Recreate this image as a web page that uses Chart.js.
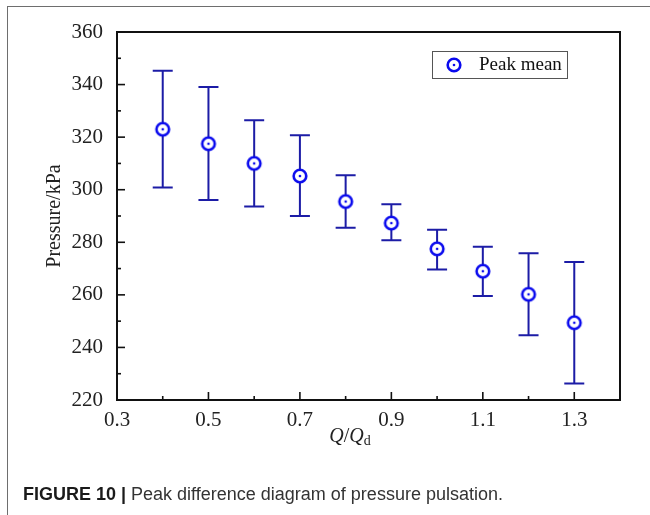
<!DOCTYPE html>
<html>
<head>
<meta charset="utf-8">
<script src="https://cdn.jsdelivr.net/npm/chart.js@4.4.0/dist/chart.umd.min.js"></script>
<style>
  html, body { margin:0; padding:0; background:#fff; }
  #wrap { position:relative; width:650px; height:515px; overflow:hidden; }
  #frame { position:absolute; left:7px; top:6px; width:700px; height:600px;
           border-left:1.5px solid #6e6e6e; border-top:1.5px solid #6e6e6e; }
  #xTitle { position:absolute; left:300px; width:100px; top:424px; text-align:center;
            font-family:"Liberation Serif", serif; font-size:20px; color:#222; }
  #xTitle sub { font-size:14px; vertical-align:-3px; font-style:normal; }
  #caption { position:absolute; left:23px; top:484px; font-family:"Liberation Sans", Arial, sans-serif;
             font-size:18px; color:#333; white-space:nowrap; }
  #caption b { color:#1a1a1a; }
  canvas { position:absolute; left:0; top:0; }
</style>
</head>
<body>
<div id="wrap">
  <div id="frame"></div>
  <canvas id="chart" width="650" height="515"></canvas>
  <div id="xTitle"><i>Q</i>/<i>Q</i><sub>d</sub></div>
  <div id="caption"><b>FIGURE 10 |</b> Peak difference diagram of pressure pulsation.</div>
</div>
<script>
// data
const flowRatio = [0.4, 0.5, 0.6, 0.7, 0.8, 0.9, 1.0, 1.1, 1.2, 1.3];
const peakMean  = [323.0, 317.5, 310.0, 305.2, 295.5, 287.3, 277.5, 269.0, 260.2, 249.4];
const peakMax   = [345.3, 339.1, 326.4, 320.7, 305.5, 294.5, 284.8, 278.3, 275.8, 272.5];
const peakMin   = [300.8, 296.1, 293.6, 290.0, 285.5, 280.8, 269.6, 259.6, 244.6, 226.3];
const seriesLabel = 'Peak mean';
const xTickLabels = ['0.3', '0.5', '0.7', '0.9', '1.1', '1.3'];
const yTickLabels = ['220', '240', '260', '280', '300', '320', '340', '360'];

const BLUE = '#0a0aee';
const NAVY = '#1c1ca6';
const SERIF = '"Liberation Serif", "Times New Roman", serif';

// open circle with a centre dot
function makeMarker(){
  const c = document.createElement('canvas');
  c.width = 18; c.height = 18;
  const g = c.getContext('2d');
  g.beginPath(); g.arc(9, 9, 6.3, 0, Math.PI*2);
  g.fillStyle = '#fff'; g.fill();
  g.lineWidth = 2.6; g.strokeStyle = BLUE; g.stroke();
  g.beginPath(); g.arc(9, 9, 1.3, 0, Math.PI*2);
  g.fillStyle = BLUE; g.fill();
  return c;
}
const marker = makeMarker();

const errorBars = {
  id:'errorBars',
  beforeDatasetsDraw(chart){
    const {ctx, scales:{x, y}} = chart;
    ctx.save();
    ctx.strokeStyle = NAVY;
    ctx.lineWidth = 2;
    flowRatio.forEach((q, i) => {
      const px = x.getPixelForValue(q);
      const top = y.getPixelForValue(peakMax[i]);
      const bot = y.getPixelForValue(peakMin[i]);
      ctx.beginPath();
      ctx.moveTo(px, top); ctx.lineTo(px, bot);
      ctx.moveTo(px - 10, top); ctx.lineTo(px + 10, top);
      ctx.moveTo(px - 10, bot); ctx.lineTo(px + 10, bot);
      ctx.stroke();
    });
    ctx.restore();
  }
};

// frame box, inward ticks and legend
const frameAndTicks = {
  id:'frameAndTicks',
  afterDraw(chart){
    const {ctx, chartArea:a, scales:{x, y}} = chart;
    ctx.save();
    ctx.strokeStyle = '#111';
    ctx.lineWidth = 2;
    ctx.strokeRect(a.left, a.top, a.right - a.left, a.bottom - a.top);

    ctx.lineWidth = 1.6;
    x.ticks.forEach(t => {
      const px = x.getPixelForValue(t.value);
      const len = xTickLabels.includes(t.value.toFixed(1)) ? 8 : 4;
      ctx.beginPath(); ctx.moveTo(px, a.bottom); ctx.lineTo(px, a.bottom - len); ctx.stroke();
    });
    y.ticks.forEach(t => {
      const py = y.getPixelForValue(t.value);
      const len = yTickLabels.includes(String(Math.round(t.value))) ? 8 : 4;
      ctx.beginPath(); ctx.moveTo(a.left, py); ctx.lineTo(a.left + len, py); ctx.stroke();
    });

    // legend box
    const lx = 432, ly = 51, lw = 135, lh = 27;
    ctx.lineWidth = 1;
    ctx.strokeStyle = '#555';
    ctx.strokeRect(lx + 0.5, ly + 0.5, lw, lh);
    ctx.drawImage(marker, lx + 13, ly + 5);
    ctx.fillStyle = '#111';
    ctx.font = '19px ' + SERIF;
    ctx.textBaseline = 'middle';
    ctx.fillText(seriesLabel, lx + 47, ly + 14);
    ctx.restore();
  }
};

new Chart(document.getElementById('chart'), {
  type:'scatter',
  data:{
    datasets:[{
      label: seriesLabel,
      data: flowRatio.map((q, i) => ({ x:q, y:peakMean[i] })),
      pointStyle: marker,
      pointRadius: 7,
      pointHoverRadius: 7
    }]
  },
  options:{
    responsive:false,
    animation:false,
    layout:{ padding:{ left:0, top:32, right:30, bottom:0 } },
    plugins:{ legend:{ display:false }, tooltip:{ enabled:false } },
    scales:{
      x:{
        type:'linear', min:0.3, max:1.4,
        grid:{ display:false },
        border:{ display:false },
        afterFit(s){ s.height = 115; },
        ticks:{
          stepSize:0.1, padding:0, maxRotation:0, autoSkip:false,
          color:'#222', font:{ family:SERIF, size:21 },
          callback(v){ const s = (Math.round(v*10)/10).toFixed(1); return xTickLabels.includes(s) ? s : ''; }
        }
      },
      y:{
        min:220, max:360,
        grid:{ display:false },
        border:{ display:false },
        afterFit(s){ s.width = 117; },
        title:{ display:true, text:'Pressure/kPa', color:'#222',
                font:{ family:SERIF, size:20 }, padding:{ top:43, bottom:0 } },
        ticks:{
          stepSize:10, padding:6, autoSkip:false,
          color:'#222', font:{ family:SERIF, size:21 },
          callback(v){ const s = String(Math.round(v)); return yTickLabels.includes(s) ? s : ''; }
        }
      }
    }
  },
  plugins:[errorBars, frameAndTicks]
});
</script>
</body>
</html>
